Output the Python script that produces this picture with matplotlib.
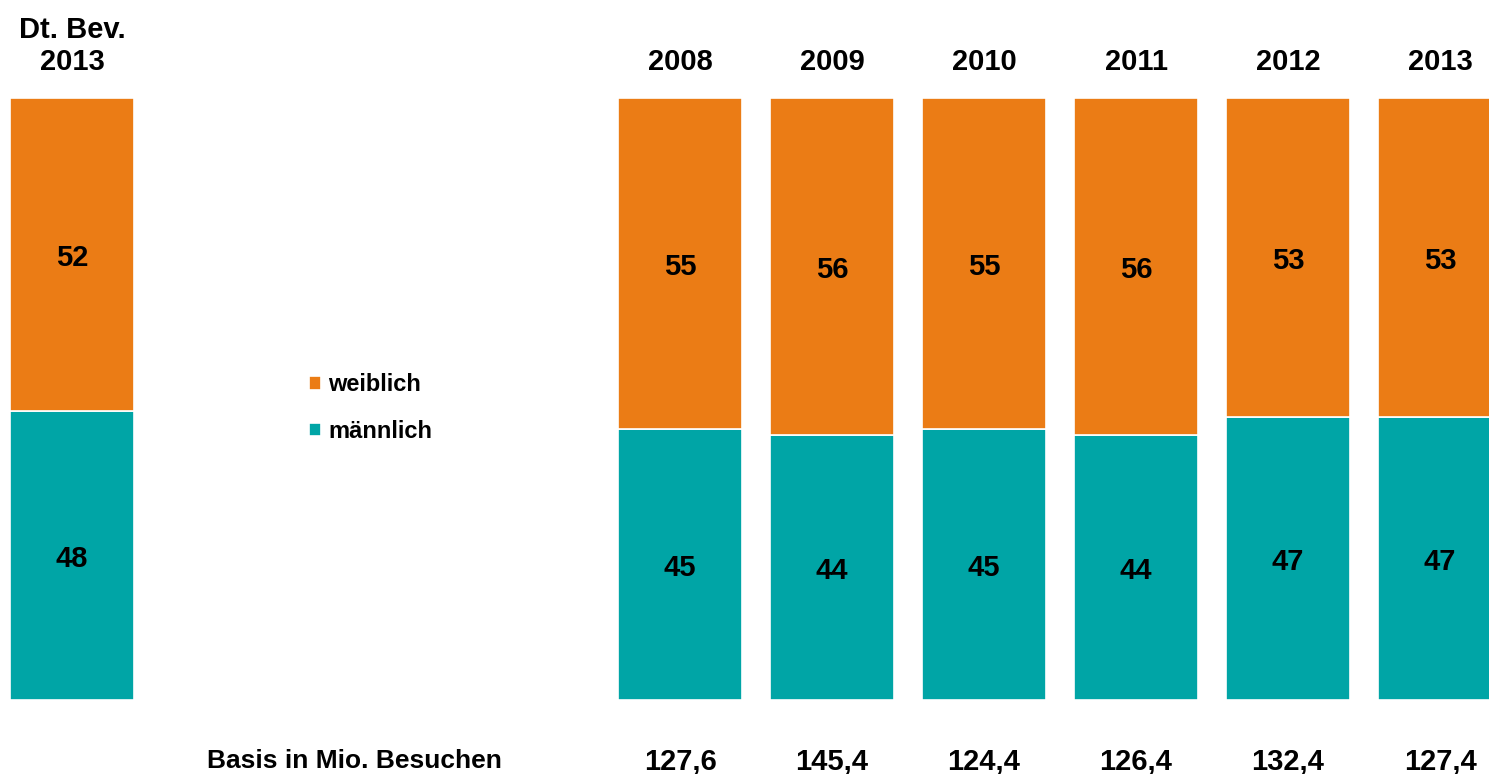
import numpy as np
import matplotlib.pyplot as plt

# ==============================================================
# data
cats = ["Dt. Bev.\n2013", "2008", "2009", "2010", "2011", "2012", "2013"]
pos = np.array([0, 4, 5, 6, 7, 8, 9])
maennlich = [48, 45, 44, 45, 44, 47, 47]
weiblich = [52, 55, 56, 55, 56, 53, 53]
basis = ["", "127,6", "145,4", "124,4", "126,4", "132,4", "127,4"]
basis_label = "Basis in Mio. Besuchen"

# ==============================================================
# styling
ORANGE = "#EB7C15"
TEAL = "#00A5A6"
FONT = "Liberation Sans"
VALFONT = 21
BASISFONT = 19
LEGFONT = 17
WIDTH = 124 / 152

plt.rcParams['font.family'] = [FONT, 'DejaVu Sans']
plt.rcParams['font.weight'] = 'bold'

W, H = 1489, 774
f = plt.figure(figsize=(W / 100, H / 100), dpi=100)
ax = f.add_axes([0, (H - 700) / H, 1, 602 / H])

b1 = ax.bar(pos, maennlich, width=WIDTH, color=TEAL, edgecolor='white', linewidth=1.2, label='männlich')
b2 = ax.bar(pos, weiblich, width=WIDTH, bottom=maennlich, color=ORANGE, edgecolor='white', linewidth=1.2, label='weiblich')

for x, m, w in zip(pos, maennlich, weiblich):
    ax.text(x, m / 2, str(m), ha='center', va='center_baseline', fontsize=VALFONT, fontweight='bold')
    ax.text(x, m + w / 2, str(w), ha='center', va='center_baseline', fontsize=VALFONT, fontweight='bold')

for x, c in zip(pos, cats):
    ax.text(x, 103.7, c, ha='center', va='bottom', fontsize=VALFONT, fontweight='bold',
            linespacing=1.17, clip_on=False)

for x, b in zip(pos, basis):
    if b:
        ax.text(x, -10.2, b, ha='center', va='center', fontsize=VALFONT, fontweight='bold', clip_on=False)
ax.text(2.83, -10.2, basis_label, ha='right', va='center', fontsize=BASISFONT, fontweight='bold', clip_on=False)

ax.set_xlim(-72 / 152, (W - 72) / 152)
ax.set_ylim(0, 100)
ax.axis('off')

leg = ax.legend(handles=[b2, b1], loc='center left', bbox_to_anchor=(288 / W, (H - 408) / H),
                bbox_transform=f.transFigure, frameon=False,
                handlelength=0.5, handleheight=0.5, handletextpad=0.3, labelspacing=1.0,
                prop={'family': FONT, 'weight': 'bold', 'size': LEGFONT})

f.savefig("out.png", dpi=100)
